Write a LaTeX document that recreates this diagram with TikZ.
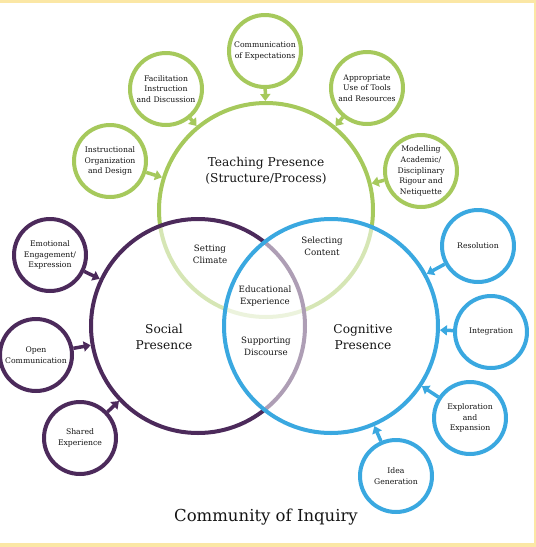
\documentclass[tikz,border=0pt]{standalone}
\usepackage{fontspec}
\usepackage{xcolor}
\usepackage{tikz}
\usetikzlibrary{arrows.meta}
\setmainfont{DejaVu Serif}
\definecolor{teach}{HTML}{A6C95C}
\definecolor{social}{HTML}{4C2A5B}
\definecolor{cogn}{HTML}{3AA8E0}
\definecolor{frame}{HTML}{FBE7A5}
\definecolor{ink}{HTML}{151515}
\tikzset{
  big/.style={circle, line width=4pt, minimum size=214pt, inner sep=0pt},
  sat/.style={circle, line width=4pt, minimum size=72pt, inner sep=0pt, fill=white,
    align=center, text=ink, font=\fontsize{7.7}{10.7}\selectfont},
  arr/.style={line width=3.5pt, -{Triangle[length=7pt,width=10pt]}},
  lab/.style={text=ink, align=center, font=\fontsize{8.7}{12}\selectfont},
  labb/.style={text=ink, align=center, font=\fontsize{12.2}{16.5}\selectfont},
}

\begin{document}
\begin{tikzpicture}[x=1pt,y=-1pt]
  \useasboundingbox (0,0) rectangle (536,547);
  \fill[frame] (0,0) rectangle (536,2.5);
  \fill[frame] (533.5,0) rectangle (536,547);
  \fill[frame] (0,543) rectangle (536,547);
  % three presences
  \node[big, draw=teach] (T) at (266,210) {};
  \node[big, draw=social, fill=white, fill opacity=0.55] (S) at (198,326) {};
  \node[big, draw=cogn, fill=white, fill opacity=0.55] (C) at (331,326) {};
  \node[labb] (tl) at (266,171) {Teaching Presence\\(Structure/Process)};
  \node[labb] (sl) at (164,337) {Social\\Presence};
  \node[labb] (cl) at (363,337) {Cognitive\\Presence};
  % overlaps
  \node[lab] (ts) at (210,254) {Setting\\Climate};
  \node[lab] (tc) at (322,246) {Selecting\\Content};
  \node[lab] (ee) at (265,296) {Educational\\Experience};
  \node[lab] (sc) at (266,346) {Supporting\\Discourse};
  % teaching elements
  \node[sat, draw=teach] (t1) at (265,51) {Communication\\of Expectations};
  \node[sat, draw=teach] (t2) at (166,89) {Facilitation\\Instruction\\and Discussion};
  \node[sat, draw=teach] (t3) at (110,161) {Instructional\\Organization\\and Design};
  \node[sat, draw=teach] (t4) at (367,88) {Appropriate\\Use of Tools\\and Resources};
  \node[sat, draw=teach] (t5) at (421,171) {Modelling\\Academic/\\Disciplinary\\Rigour and\\Netiquette};
  \draw[arr, teach] (t1) -- (T);
  \draw[arr, teach] (t2) -- (T);
  \draw[arr, teach] (t3) -- (T);
  \draw[arr, teach] (t4) -- (T);
  \draw[arr, teach] (t5) -- (T);
  % social elements
  \node[sat, draw=social] (s1) at (50,255) {Emotional\\Engagement/\\Expression};
  \node[sat, draw=social] (s2) at (36,355) {Open\\Communication};
  \node[sat, draw=social] (s3) at (80,438) {Shared\\Experience};
  \draw[arr, social] (s1) -- (S);
  \draw[arr, social] (s2) -- (S);
  \draw[arr, social] (s3) -- (S);
  % cognitive elements
  \node[sat, draw=cogn] (c1) at (478,246) {Resolution};
  \node[sat, draw=cogn] (c2) at (491,332) {Integration};
  \node[sat, draw=cogn] (c3) at (470,418) {Exploration\\and\\Expansion};
  \node[sat, draw=cogn] (c4) at (396,476) {Idea\\Generation};
  \draw[arr, cogn] (c1) -- (C);
  \draw[arr, cogn] (c2) -- (C);
  \draw[arr, cogn] (c3) -- (C);
  \draw[arr, cogn] (c4) -- (C);
  \node[text=ink, font=\fontsize{16.5}{19}\selectfont] (title) at (266,517) {Community of Inquiry};
\end{tikzpicture}
\end{document}
